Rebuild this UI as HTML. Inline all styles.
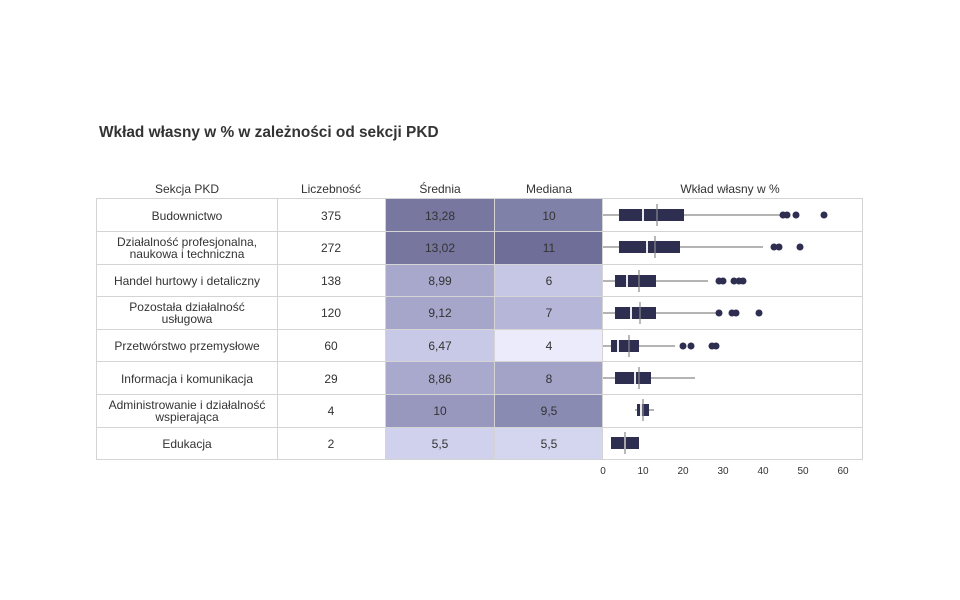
<!DOCTYPE html>
<html><head><meta charset="utf-8"><style>
body{margin:0;background:#fff;}
svg{display:block;font-family:"Liberation Sans",Arial,sans-serif;}
</style></head><body>
<svg width="960" height="600" viewBox="0 0 960 600" xmlns="http://www.w3.org/2000/svg">
<rect width="960" height="600" fill="#fff"/>
<text x="99" y="137" font-size="15.4" font-weight="bold" fill="#333">Wkład własny w % w zależności od sekcji PKD</text>
<g font-size="12" fill="#333" text-anchor="middle">
<text x="187" y="193">Sekcja PKD</text>
<text x="331" y="193">Liczebność</text>
<text x="440" y="193">Średnia</text>
<text x="549" y="193">Mediana</text>
<text x="730" y="193">Wkład własny w %</text>
</g>
<g>
<rect x="386" y="199" width="109" height="33" fill="#77779f"/><rect x="495" y="199" width="108" height="33" fill="#8081a9"/>
<rect x="386" y="232" width="109" height="32" fill="#76769e"/><rect x="495" y="232" width="108" height="32" fill="#6e6e98"/>
<rect x="386" y="264" width="109" height="33" fill="#a7a8cb"/><rect x="495" y="264" width="108" height="33" fill="#c6c7e4"/>
<rect x="386" y="297" width="109" height="32" fill="#a5a6c9"/><rect x="495" y="297" width="108" height="32" fill="#b5b6d8"/>
<rect x="386" y="329" width="109" height="33" fill="#c8c9e6"/><rect x="495" y="329" width="108" height="33" fill="#ebebfb"/>
<rect x="386" y="362" width="109" height="32" fill="#a8a9cc"/><rect x="495" y="362" width="108" height="32" fill="#a2a3c7"/>
<rect x="386" y="394" width="109" height="33" fill="#9898be"/><rect x="495" y="394" width="108" height="33" fill="#8a8bb3"/>
<rect x="386" y="427" width="109" height="33" fill="#d0d1ec"/><rect x="495" y="427" width="108" height="33" fill="#d4d5ee"/>
</g>
<g stroke="#d4d4d4" stroke-width="1" fill="none">
<rect x="96.5" y="198.5" width="766" height="261"/>
<line x1="96" y1="231.5" x2="863" y2="231.5"/>
<line x1="96" y1="264.5" x2="863" y2="264.5"/>
<line x1="96" y1="296.5" x2="863" y2="296.5"/>
<line x1="96" y1="329.5" x2="863" y2="329.5"/>
<line x1="96" y1="361.5" x2="863" y2="361.5"/>
<line x1="96" y1="394.5" x2="863" y2="394.5"/>
<line x1="96" y1="427.5" x2="863" y2="427.5"/>
<line x1="277.5" y1="198" x2="277.5" y2="460"/>
<line x1="385.5" y1="198" x2="385.5" y2="460"/>
<line x1="494.5" y1="198" x2="494.5" y2="460"/>
<line x1="602.5" y1="198" x2="602.5" y2="460"/>
</g>
<g font-size="12" fill="#333" text-anchor="middle">
<text x="187" y="220">Budownictwo</text>
<text x="187" y="246">Działalność profesjonalna,</text><text x="187" y="258">naukowa i techniczna</text>
<text x="187" y="285">Handel hurtowy i detaliczny</text>
<text x="187" y="311">Pozostała działalność</text><text x="187" y="323">usługowa</text>
<text x="187" y="350">Przetwórstwo przemysłowe</text>
<text x="187" y="383">Informacja i komunikacja</text>
<text x="187" y="409">Administrowanie i działalność</text><text x="187" y="421">wspierająca</text>
<text x="187" y="448">Edukacja</text>
<text x="331" y="220">375</text><text x="331" y="252">272</text><text x="331" y="285">138</text><text x="331" y="317">120</text>
<text x="331" y="350">60</text><text x="331" y="383">29</text><text x="331" y="415">4</text><text x="331" y="448">2</text>
<text x="440" y="220">13,28</text><text x="440" y="252">13,02</text><text x="440" y="285">8,99</text><text x="440" y="317">9,12</text>
<text x="440" y="350">6,47</text><text x="440" y="383">8,86</text><text x="440" y="415">10</text><text x="440" y="448">5,5</text>
<text x="549" y="220">10</text><text x="549" y="252">11</text><text x="549" y="285">6</text><text x="549" y="317">7</text>
<text x="549" y="350">4</text><text x="549" y="383">8</text><text x="549" y="415">9,5</text><text x="549" y="448">5,5</text>
</g>
<g stroke="#888" stroke-width="1.2">
<line x1="603" y1="215" x2="782" y2="215"/>
<line x1="603" y1="247" x2="763" y2="247"/>
<line x1="603" y1="281" x2="708" y2="281"/>
<line x1="603" y1="313" x2="719" y2="313"/>
<line x1="603" y1="346" x2="675" y2="346"/>
<line x1="603" y1="378" x2="695" y2="378"/>
<line x1="635" y1="410" x2="654" y2="410"/>
</g>
<g fill="#2e2e50">
<rect x="619" y="209" width="65" height="12"/>
<rect x="619" y="241" width="61" height="12"/>
<rect x="615" y="275" width="41" height="12"/>
<rect x="615" y="307" width="41" height="12"/>
<rect x="611" y="340" width="28" height="12"/>
<rect x="615" y="372" width="36" height="12"/>
<rect x="637" y="404" width="12" height="12"/>
<rect x="611" y="437" width="28" height="12"/>
</g>
<g stroke="#fff" stroke-width="1.8">
<line x1="643" y1="209" x2="643" y2="221"/>
<line x1="647" y1="241" x2="647" y2="253"/>
<line x1="627" y1="275" x2="627" y2="287"/>
<line x1="631" y1="307" x2="631" y2="319"/>
<line x1="618" y1="340" x2="618" y2="352"/>
<line x1="635" y1="372" x2="635" y2="384"/>
<line x1="641" y1="404" x2="641" y2="416"/>
<line x1="625" y1="437" x2="625" y2="449"/>
</g>
<g stroke="#888" stroke-width="1.2">
<line x1="657" y1="204" x2="657" y2="226"/>
<line x1="655" y1="236" x2="655" y2="258"/>
<line x1="639" y1="270" x2="639" y2="292"/>
<line x1="640" y1="302" x2="640" y2="324"/>
<line x1="629" y1="335" x2="629" y2="357"/>
<line x1="639" y1="367" x2="639" y2="389"/>
<line x1="643" y1="399" x2="643" y2="421"/>
<line x1="625" y1="432" x2="625" y2="454"/>
</g>
<g fill="#2e2e50">
<circle cx="783" cy="215" r="3.5"/><circle cx="787" cy="215" r="3.5"/><circle cx="796" cy="215" r="3.5"/><circle cx="824" cy="215" r="3.5"/>
<circle cx="774" cy="247" r="3.5"/><circle cx="779" cy="247" r="3.5"/><circle cx="800" cy="247" r="3.5"/>
<circle cx="719" cy="281" r="3.5"/><circle cx="723" cy="281" r="3.5"/><circle cx="734" cy="281" r="3.5"/><circle cx="739" cy="281" r="3.5"/><circle cx="743" cy="281" r="3.5"/>
<circle cx="719" cy="313" r="3.5"/><circle cx="732" cy="313" r="3.5"/><circle cx="736" cy="313" r="3.5"/><circle cx="759" cy="313" r="3.5"/>
<circle cx="683" cy="346" r="3.5"/><circle cx="691" cy="346" r="3.5"/><circle cx="712" cy="346" r="3.5"/><circle cx="716" cy="346" r="3.5"/>
</g>
<g font-size="10" fill="#333" text-anchor="middle">
<text x="603" y="474">0</text><text x="643" y="474">10</text><text x="683" y="474">20</text><text x="723" y="474">30</text>
<text x="763" y="474">40</text><text x="803" y="474">50</text><text x="843" y="474">60</text>
</g>
</svg>
</body></html>
